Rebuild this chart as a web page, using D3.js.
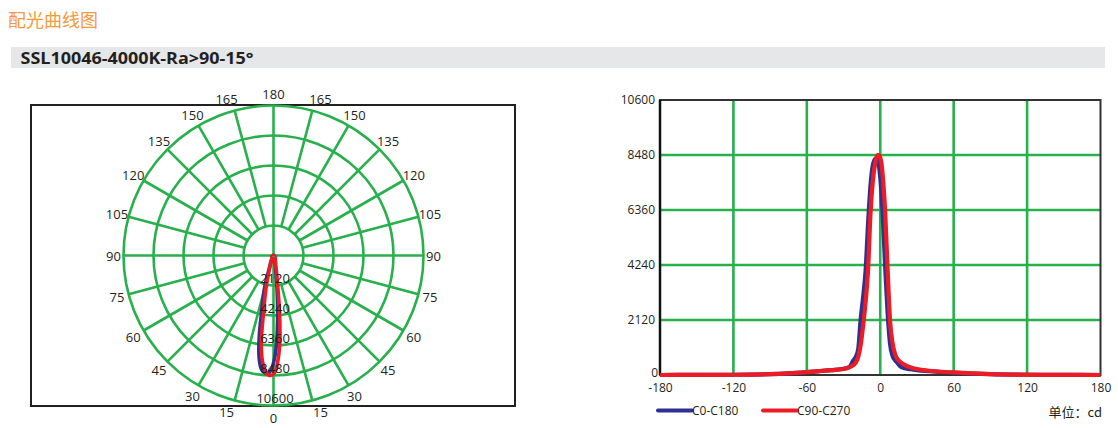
<!DOCTYPE html>
<html><head><meta charset="utf-8">
<script src="https://cdn.jsdelivr.net/npm/d3@7"></script>
<style>
html,body{margin:0;padding:0;background:#fff;}
svg{display:block;}
text{font-family:"Open Sans","Noto Sans",sans-serif;}
</style></head>
<body>
<script>
// ---- data ----
const title = "配光曲线图";
const subtitle = "SSL10046-4000K-Ra>90-15°";
const seriesNames = ["C0-C180", "C90-C270"];
const angles = [-180,-150,-120,-90,-75,-60,-50,-40,-30,-25,-22,-20,-18,-16,-14,-12,-10,-8,-6,-4,-3,-2,-1,0,1,2,4,6,8,10,12,14,16,20,25,30,40,50,60,75,90,120,150,180];
const c0c180 = [0,5,10,30,60,110,150,190,240,320,560,700,1000,2150,3000,4000,5800,7300,8100,8330,8350,8250,8050,7600,7000,6200,4200,2400,1200,750,580,470,350,260,220,190,150,115,90,55,30,10,5,0];
const c90c270 = [0,5,10,30,60,110,150,190,230,300,380,470,700,1150,1900,2800,4000,6200,7500,8200,8400,8480,8470,8380,8150,7700,6300,4100,2100,1250,820,620,520,390,290,230,165,125,100,65,35,12,5,0];
const radialTicks = [2120,4240,6360,8480,10600];
const yTicks = [0,2120,4240,6360,8480,10600];
const xTicks = [-180,-120,-60,0,60,120,180];
const polarAngleLabels = [0,15,30,45,60,75,90,105,120,135,150,165,180];
const unitLabel = "单位：cd";

const W = 1118, H = 428;
const GREEN = "#27b04b", BLUE = "#2e3192", RED = "#ed1c24", TXT = "#231f20";
const svg = d3.select("body").append("svg").attr("width", W).attr("height", H);

// header
svg.append("text").attr("x", 8).attr("y", 27).attr("fill", "#f49a3a")
  .attr("font-size", 18).style("font-family", "'Noto Sans CJK SC',sans-serif").text(title);
svg.append("rect").attr("x", 11).attr("y", 47).attr("width", 1094).attr("height", 21).attr("fill", "#e6e7e8");
svg.append("text").attr("x", 20.5).attr("y", 63.5).attr("font-size", 16).attr("font-weight", "bold")
  .attr("fill", TXT).attr("textLength", 233).attr("lengthAdjust", "spacingAndGlyphs").text(subtitle);

const series = [
  {name: seriesNames[0], values: c0c180, color: BLUE},
  {name: seriesNames[1], values: c90c270, color: RED}
];

// ---- polar chart ----
const cx = 273.5, cy = 255.5, R = 150;
const rScale = d3.scaleLinear().domain([0, 10600]).range([0, R]);
const pg = svg.append("g");
pg.append("rect").attr("x", 31).attr("y", 105).attr("width", 484).attr("height", 301)
  .attr("fill", "none").attr("stroke", "#231f20").attr("stroke-width", 2);
const grid = pg.append("g").attr("stroke", GREEN).attr("stroke-width", 2.6).attr("fill", "none");
radialTicks.forEach(v => grid.append("circle").attr("cx", cx).attr("cy", cy).attr("r", rScale(v)));
for (let a = -165; a <= 180; a += 15) {
  const t = a * Math.PI / 180;
  const r0 = (a % 90 === 0) ? 0 : rScale(radialTicks[0]);
  grid.append("line")
    .attr("x1", cx + r0 * Math.sin(t)).attr("y1", cy + r0 * Math.cos(t))
    .attr("x2", cx + R * Math.sin(t)).attr("y2", cy + R * Math.cos(t));
}
const radial = d3.lineRadial()
  .angle((d, i) => Math.PI - angles[i] * Math.PI / 180)
  .radius(d => rScale(d))
  .curve(d3.curveCatmullRom);
series.forEach(s => {
  pg.append("path").attr("transform", `translate(${cx},${cy})`)
    .attr("d", radial(s.values)).attr("fill", "none").attr("stroke", s.color)
    .attr("stroke-width", 3.6).attr("stroke-linejoin", "round");
});
radialTicks.forEach(v => {
  pg.append("text").attr("x", cx + 1.5).attr("y", cy + rScale(v) - 7.5)
    .attr("text-anchor", "middle").attr("dominant-baseline", "central")
    .attr("font-size", 13).attr("fill", TXT).text(v);
});
polarAngleLabels.forEach(a => {
  [1, -1].forEach(side => {
    if ((a === 0 || a === 180) && side === -1) return;
    const t = side * a * Math.PI / 180;
    const lr = 162;
    let x = cx + lr * Math.sin(t), y = cy + lr * Math.cos(t);
    if (a === 15 || a === 165) x += side * 5;
    if (a === 90) x -= side * 2;
    pg.append("text").attr("x", x).attr("y", y)
      .attr("text-anchor", "middle").attr("dominant-baseline", "central")
      .attr("font-size", 13).attr("fill", TXT).text(a);
  });
});

// ---- cartesian chart ----
const x = d3.scaleLinear().domain([-180, 180]).range([660, 1100.5]);
const y = d3.scaleLinear().domain([0, 10600]).range([375, 100]);
const cg = svg.append("g");
const cgrid = cg.append("g").attr("stroke", GREEN).attr("stroke-width", 2.6);
xTicks.slice(1, -1).forEach(v => cgrid.append("line").attr("x1", x(v)).attr("x2", x(v)).attr("y1", y(0)).attr("y2", y(10600)));
yTicks.slice(1, -1).forEach(v => cgrid.append("line").attr("x1", x(-180)).attr("x2", x(180)).attr("y1", y(v)).attr("y2", y(v)));
cg.append("rect").attr("x", x(-180)).attr("y", y(10600)).attr("width", x(180) - x(-180)).attr("height", y(0) - y(10600))
  .attr("fill", "none").attr("stroke", "#333").attr("stroke-width", 2);
cg.append("line").attr("x1", x(-180)).attr("x2", x(-180)).attr("y1", y(0)).attr("y2", y(10600)).attr("stroke", "#111").attr("stroke-width", 2.5);

const line = d3.line().x((d, i) => x(angles[i])).y(d => y(d)).curve(d3.curveMonotoneX);
series.forEach(s => {
  cg.append("path").attr("d", line(s.values)).attr("fill", "none").attr("stroke", s.color)
    .attr("stroke-width", 4.2).attr("stroke-linejoin", "round");
});

const yAxis = d3.axisLeft(y).tickValues(yTicks).tickSize(0).tickPadding(5).tickFormat(d => d);
const ya = cg.append("g").attr("transform", `translate(${x(-180)},0)`).call(yAxis);
const xAxis = d3.axisBottom(x).tickValues(xTicks).tickSize(0).tickPadding(8).tickFormat(d => d);
const xa = cg.append("g").attr("transform", `translate(0,${y(0)})`).call(xAxis);
[ya, xa].forEach(a => {
  a.select(".domain").remove();
  a.selectAll("text").attr("font-size", 12).attr("fill", TXT).style("font-family", "'Open Sans',sans-serif");
});
// nudge the "0" y label up/right slightly as in the reference
ya.selectAll(".tick").filter(d => d === 0).select("text").attr("dy", "0.1em").attr("x", -2);

// legend
const leg = [{x0: 658, color: BLUE, name: seriesNames[0]}, {x0: 763, color: RED, name: seriesNames[1]}];
leg.forEach(l => {
  cg.append("line").attr("x1", l.x0).attr("x2", l.x0 + 34).attr("y1", 410.5).attr("y2", 410.5)
    .attr("stroke", l.color).attr("stroke-width", 4).attr("stroke-linecap", "round");
  cg.append("text").attr("x", l.x0 + 34).attr("y", 410.5).attr("dominant-baseline", "central")
    .attr("font-size", 12).attr("fill", TXT).text(l.name);
});
cg.append("text").attr("x", 1102).attr("y", 411).attr("text-anchor", "end").attr("dominant-baseline", "central")
  .attr("font-size", 13).attr("fill", TXT).style("font-family", "'Noto Sans CJK SC',sans-serif").text(unitLabel);
</script>
</body></html>
